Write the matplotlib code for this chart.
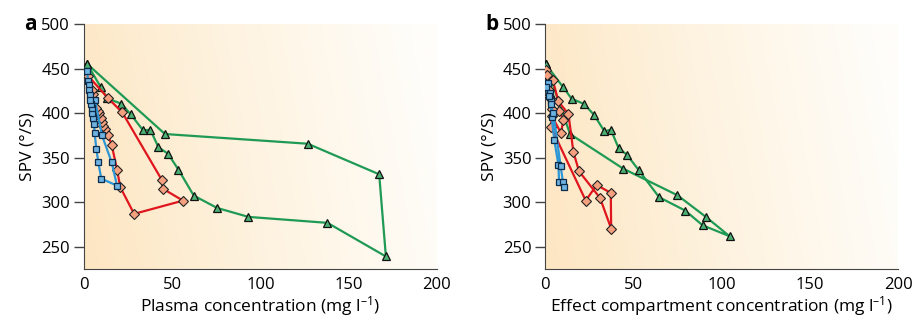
import numpy as np
import matplotlib
matplotlib.use("Agg")
import matplotlib.pyplot as plt
from matplotlib.colors import LinearSegmentedColormap

plt.rcParams['font.family'] = ['Open Sans', 'DejaVu Sans']
plt.rcParams['mathtext.fontset'] = 'custom'
plt.rcParams['mathtext.rm'] = 'Open Sans'
plt.rcParams['mathtext.default'] = 'regular'

# panel a: plasma concentration
a_blue_x = [1.7, 2.3, 2.6, 3.0, 3.6, 6.2, 10.2, 15.7, 18.7, 9.8, 8.1, 7.0, 6.0, 5.7, 5.1, 4.7, 4.3, 4.0, 3.6]
a_blue_y = [447.6, 436.4, 431.9, 426.3, 420.7, 415.0, 375.0, 344.7, 318.5, 326.3, 344.7, 360.0, 377.6, 388.1, 394.5, 400.1, 405.7, 410.2, 415.0]

a_red_x = [2.3, 13.4, 21.7, 44.0, 44.6, 56.1, 28.4, 20.6, 18.7, 15.7, 13.4, 12.1, 11.0, 10.2, 9.5, 8.5, 7.8, 7.0, 5.3, 4.3]
a_red_y = [442.0, 417.3, 400.8, 325.2, 315.1, 301.6, 286.7, 316.6, 336.5, 364.5, 375.7, 382.1, 385.9, 390.0, 394.5, 400.1, 402.7, 405.7, 421.4, 426.3]

a_green_x = [1.7, 45.9, 126.8, 167.3, 171.1, 138.0, 93.2, 75.4, 62.2, 53.5, 47.6, 42.2, 37.6, 33.5, 26.5, 21.2, 13.2, 9.5, 1.7]
a_green_y = [455.5, 376.5, 365.6, 331.2, 238.8, 276.6, 283.3, 293.4, 307.3, 336.5, 354.4, 361.5, 381.4, 380.6, 398.6, 410.6, 416.5, 429.3, 455.5]

# panel b: effect compartment concentration
b_blue_x = [1.5, 2.5, 3.0, 3.6, 5.1, 7.4, 7.8, 10.2, 10.4, 8.7, 4.5, 3.0, 1.9, 0.4]
b_blue_y = [433.8, 422.5, 413.2, 395.6, 369.4, 342.0, 322.6, 322.3, 316.6, 340.2, 400.0, 410.0, 418.8, 428.9]

b_red_x = [0.4, 4.2, 7.4, 13.1, 15.9, 19.1, 31.0, 37.3, 37.1, 29.1, 22.9, 3.2, 3.6, 8.9, 10.2, 7.9, 3.6, 3.2, 2.3, 1.9, 0.8]
b_red_y = [448.7, 437.5, 413.2, 399.0, 356.3, 334.6, 304.6, 270.2, 310.3, 319.2, 301.6, 384.4, 397.1, 377.6, 392.6, 401.9, 404.9, 415.8, 419.5, 426.3, 443.1]

b_green_x = [0.2, 14.0, 44.1, 74.9, 91.0, 104.4, 89.1, 79.3, 64.5, 53.0, 46.2, 41.6, 37.1, 33.5, 27.8, 22.1, 14.9, 10.2, 0.2]
b_green_y = [455.1, 376.5, 337.6, 307.6, 283.3, 261.6, 273.9, 290.4, 305.4, 335.7, 353.3, 360.4, 381.4, 379.5, 397.5, 410.2, 416.2, 428.9, 455.1]

panels = [
    ("a", "Plasma concentration (mg l$^{–1}$)",
     (a_blue_x, a_blue_y), (a_red_x, a_red_y), (a_green_x, a_green_y)),
    ("b", "Effect compartment concentration (mg l$^{–1}$)",
     (b_blue_x, b_blue_y), (b_red_x, b_red_y), (b_green_x, b_green_y)),
]

bg_cmap = LinearSegmentedColormap.from_list("bg", ["#fde6c2", "#fef3e0", "#fffdf9"])
gx, gy = np.meshgrid(np.linspace(0, 1, 300), np.linspace(0, 1, 100))
grad = np.clip(gx * 0.95 + gy * 0.12, 0, 1)

fig = plt.figure(figsize=(9.13, 3.23), dpi=100)
lefts = [0.092, 0.5973]
for left, (letter, xlabel, blue, red, green) in zip(lefts, panels):
    ax = fig.add_axes([left, 0.168, 0.3865, 0.757])
    ax.imshow(grad, cmap=bg_cmap, extent=[0, 200, 225, 500], aspect='auto',
              origin='lower', zorder=0, vmin=0, vmax=1)
    ax.plot(green[0], green[1], color="#1f9a55", lw=1.6, marker="^", ms=6.3,
            mfc="#4cb072", mec="#111111", mew=0.9, zorder=3)
    ax.plot(red[0], red[1], color="#e0161e", lw=1.6, marker="D", ms=4.8,
            mfc="#f5a07e", mec="#222222", mew=0.8, zorder=4)
    ax.plot(blue[0], blue[1], color="#2c96d6", lw=1.6, marker="s", ms=4.8,
            mfc="#6fb3e0", mec="#0c2a4a", mew=0.9, zorder=5)
    ax.set_xlim(0, 200)
    ax.set_ylim(225, 500)
    ax.set_xticks([0, 50, 100, 150, 200])
    ax.set_yticks([250, 300, 350, 400, 450, 500])
    ax.spines['top'].set_visible(False)
    ax.spines['right'].set_visible(False)
    ax.spines['left'].set_color("#444444")
    ax.spines['bottom'].set_color("#444444")
    ax.tick_params(axis='y', length=7, width=1, color="#444444", labelsize=12, pad=3)
    ax.tick_params(axis='x', length=0, labelsize=12, pad=6)
    ax.set_xlabel(xlabel, fontsize=12.5, labelpad=1)
    ax.set_ylabel("SPV (°/S)", fontsize=12.5, labelpad=4)
    ax.text(-0.17, 1.0, letter, transform=ax.transAxes, fontsize=15,
            fontweight='bold', ha='left', va='center')

plt.savefig("out.png", dpi=100)
